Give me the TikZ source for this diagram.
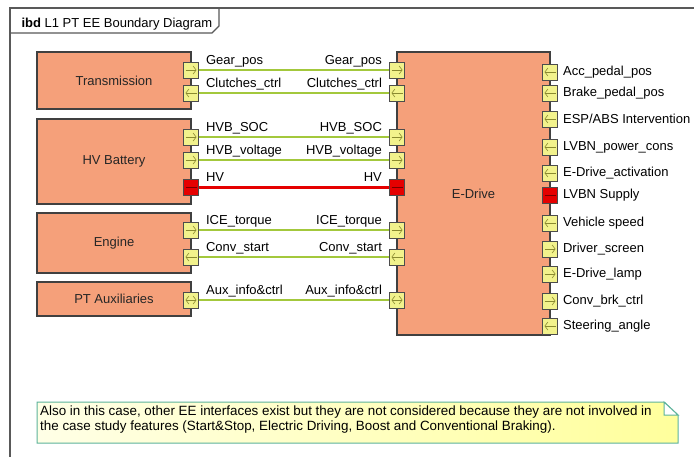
\documentclass[tikz,border=0pt]{standalone}
\usepackage{fontspec}
\setmainfont{Liberation Sans}
\usetikzlibrary{arrows.meta}
\definecolor{salmon}{HTML}{F5A07A}
\definecolor{portyel}{HTML}{F2F28C}
\definecolor{sigline}{HTML}{A3C83C}
\definecolor{notefill}{HTML}{FFFF9C}
\definecolor{noteline}{HTML}{5DB39B}
\definecolor{tipcol}{HTML}{8A8A30}

\begin{document}
\begin{tikzpicture}[x=1pt,y=-1pt,
  every node/.style={font=\fontsize{13}{15}\selectfont},
  block/.style={draw=black!75,line width=1.2pt,fill=salmon,inner sep=0pt,text=black!85},
  port/.style={draw=black!70,line width=0.8pt,fill=portyel,minimum width=15pt,minimum height=16pt,inner sep=0pt},
  tip/.style={draw=tipcol,line width=0.6pt},
  pr/.style={port,path picture={\draw[tip,-{Straight Barb[length=3pt,width=8pt]}] ([xshift=2pt]path picture bounding box.west)--([xshift=-2pt]path picture bounding box.east);}},
  pl/.style={port,path picture={\draw[tip,-{Straight Barb[length=3pt,width=8pt]}] ([xshift=-2pt]path picture bounding box.east)--([xshift=2pt]path picture bounding box.west);}},
  plr/.style={port,path picture={\draw[tip,{Straight Barb[length=3pt,width=8pt]}-{Straight Barb[length=3pt,width=8pt]}] ([xshift=2pt]path picture bounding box.west)--([xshift=-2pt]path picture bounding box.east);}},
  phv/.style={port,fill=red!90!black,path picture={\draw[red!45!black,line width=0.8pt] ([xshift=2pt]path picture bounding box.west)--([xshift=-2pt]path picture bounding box.east);}},
  sig/.style={sigline,line width=2pt},
  pwr/.style={red!90!black,line width=3pt}]
\useasboundingbox[fill=white] (0,0) rectangle (694,456);
\draw[black!65,line width=1.3pt] (10,470)--(10,8)--(710,8);
\draw[black!65,line width=1.3pt] (10,33)--(212,33)--(219,26)--(219,8);
\node[anchor=base west] (title) at (18,27) {\textbf{ibd} L1 PT EE Boundary Diagram};

\node[block,minimum width=154pt,minimum height=57pt] (trans) at (114,80.5) {Transmission};
\node[block,minimum width=154pt,minimum height=85pt] (hvb) at (114,161.5) {HV Battery};
\node[block,minimum width=154pt,minimum height=60pt] (eng) at (114,243) {Engine};
\node[block,minimum width=154pt,minimum height=34pt] (aux) at (114,299) {PT Auxiliaries};
\node[block,minimum width=153pt,minimum height=283pt] (edrive) at (473.5,193.5) {E-Drive};

\foreach \y/\s/\l/\t [count=\i] in {70/pr/sig/Gear\_pos,93/pl/sig/Clutches\_ctrl,137/pr/sig/HVB\_SOC,
  160/pr/sig/HVB\_voltage,187/phv/pwr/HV,230/pr/sig/ICE\_torque,257/pl/sig/Conv\_start,300/plr/sig/Aux\_info\&ctrl}{
  \node[\s] (a\i) at (191,\y) {};
  \node[\s] (b\i) at (397,\y) {};
  \draw[\l] (a\i) -- (b\i);
  \node[anchor=base west,inner sep=0pt] (la\i) at ([xshift=7pt,yshift=6pt]a\i.east) {\t};
  \node[anchor=base east,inner sep=0pt] (lb\i) at ([xshift=-7pt,yshift=6pt]b\i.west) {\t};
}

\foreach \y/\s/\t [count=\i] in {72/pl/Acc\_pedal\_pos,93/pl/Brake\_pedal\_pos,119/pl/{ESP/ABS Intervention},
  147/pl/LVBN\_power\_cons,173/pl/E-Drive\_activation,195/phv/LVBN Supply,223/pl/Vehicle speed,
  249/pr/Driver\_screen,274/pr/E-Drive\_lamp,301/pr/Conv\_brk\_ctrl,326/pl/Steering\_angle}{
  \node[\s] (r\i) at (550,\y) {};
  \node[anchor=west,inner sep=0pt] (lr\i) at ([xshift=5pt]r\i.east) {\t};
}

\draw[noteline,line width=1pt,left color=notefill!25,right color=notefill] (37,402)--(664,402)--(678,415)--(678,443)--(37,443)--cycle;
\draw[noteline,line width=1pt,fill=white] (664,402)--(664,415)--(678,415)--cycle;
\node[anchor=north west,align=left,inner sep=0pt,font=\fontsize{13.4}{15}\selectfont] (note) at (40,405.5)
  {Also in this case, other EE interfaces exist but they are not considered because they are not involved in\\
   the case study features (Start\&Stop, Electric Driving, Boost and Conventional Braking).};
\end{tikzpicture}
\end{document}
